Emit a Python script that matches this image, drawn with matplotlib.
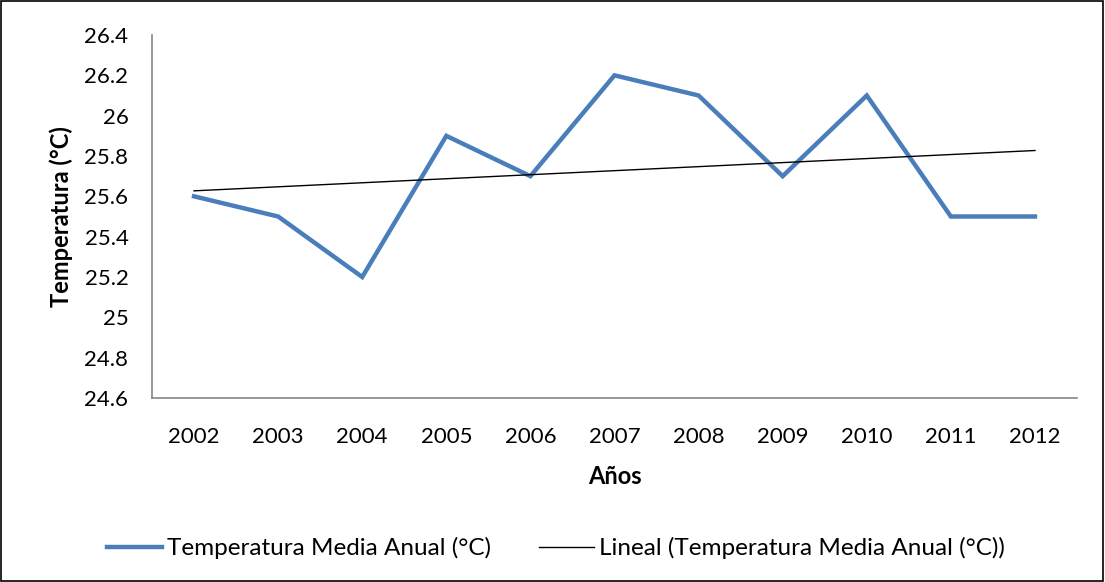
import numpy as np
import matplotlib
matplotlib.use("Agg")
import matplotlib.pyplot as plt
from matplotlib.patches import Rectangle

years = ["2002", "2003", "2004", "2005", "2006", "2007", "2008", "2009", "2010", "2011", "2012"]
temps = [25.6, 25.5, 25.2, 25.9, 25.7, 26.2, 26.1, 25.7, 26.1, 25.5, 25.5]
yticks = [24.6, 24.8, 25.0, 25.2, 25.4, 25.6, 25.8, 26.0, 26.2, 26.4]
ytick_labels = ["24.6", "24.8", "25", "25.2", "25.4", "25.6", "25.8", "26", "26.2", "26.4"]

plt.rcParams['font.family'] = ['Lato', 'DejaVu Sans']

fig = plt.figure(figsize=(11.05, 5.82), dpi=100)
ax = fig.add_axes([152/1105, 1 - 398/582, (1077-152)/1105, (398-35)/582])

x = np.arange(len(years))
ax.plot(x, temps, color='#4A7EBB', lw=3.2, solid_joinstyle='miter',
        label='Temperatura Media Anual (°C)')
coef = np.polyfit(x, temps, 1)
ax.plot(x, np.polyval(coef, x), color='black', lw=1.0,
        label='Lineal (Temperatura Media Anual (°C))')

ax.set_xlim(-0.5, len(years) - 0.5)
ax.set_ylim(24.6, 26.4)
ax.set_xticks(x)
ax.set_xticklabels(years)
ax.set_yticks(yticks)
ax.set_yticklabels(ytick_labels)
ax.tick_params(length=0, labelsize=16, colors='black')
ax.tick_params(axis='x', pad=21)
ax.tick_params(axis='y', pad=17)
for s in ['top', 'right']:
    ax.spines[s].set_visible(False)
for s in ['left', 'bottom']:
    ax.spines[s].set_color('#868686')
    ax.spines[s].set_linewidth(1.2)

ax.set_ylabel('Temperatura (°C)', fontsize=17, fontweight='bold', labelpad=8)
ax.set_xlabel('Años', fontsize=17, fontweight='bold', labelpad=13)

leg = fig.legend(loc='center', bbox_to_anchor=(556/1105, 1 - 548/582), ncol=2,
                 frameon=False, fontsize=17.5, handlelength=2.26, handletextpad=0.2,
                 columnspacing=2.0)

fig.patches.append(Rectangle((0.0005, 0.001), 0.998, 0.997, transform=fig.transFigure,
                             fill=False, edgecolor='black', lw=1.2))

fig.savefig('out.png', dpi=100)
